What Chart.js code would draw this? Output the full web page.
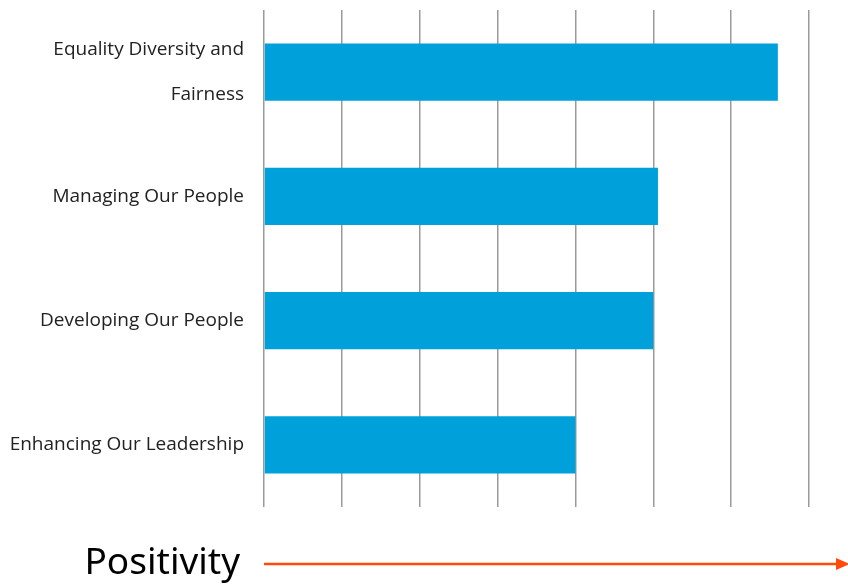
<!DOCTYPE html>
<html>
<head>
<meta charset="utf-8">
<script src="https://cdn.jsdelivr.net/npm/chart.js@4"></script>
<style>
  html, body { margin: 0; padding: 0; background: #fff; }
  #wrap { width: 848px; height: 585px; }
</style>
</head>
<body>
<div id="wrap"><canvas id="myChart" width="848" height="585"></canvas></div>
<script>
// Kategorien und Werte
const categories = [
    ['Equality Diversity and', 'Fairness'],
    'Managing Our People',
    'Developing Our People',
    'Enhancing Our Leadership'
];
const values = [6.6, 5.06, 5.0, 4.0];
const axisMax = 7;
const axisTitle = 'Positivity';

// Titel "Positivity" und Pfeil unter dem Diagramm
const arrowPlugin = {
    id: 'arrowPlugin',
    afterDraw(chart) {
        const ctx = chart.ctx;
        const area = chart.chartArea;
        const y = area.bottom + 57;
        ctx.save();
        ctx.fillStyle = '#000';
        ctx.font = '37px "Noto Sans"';
        ctx.textAlign = 'right';
        ctx.textBaseline = 'alphabetic';
        ctx.fillText(axisTitle, area.left - 24, area.bottom + 67);

        ctx.strokeStyle = '#FF4A0A';
        ctx.fillStyle = '#FF4A0A';
        ctx.lineWidth = 2.5;
        ctx.beginPath();
        ctx.moveTo(area.left, y);
        ctx.lineTo(chart.width - 8, y);
        ctx.stroke();
        ctx.beginPath();
        ctx.moveTo(chart.width + 2, y);
        ctx.lineTo(chart.width - 12, y - 6);
        ctx.lineTo(chart.width - 12, y + 6);
        ctx.closePath();
        ctx.fill();
        ctx.restore();
    }
};

const config = {
    type: 'bar',
    data: {
        labels: categories,
        datasets: [{
            data: values,
            backgroundColor: '#00A1DB',
            borderWidth: 0,
            barPercentage: 0.46,
            categoryPercentage: 1
        }]
    },
    options: {
        indexAxis: 'y',
        responsive: false,
        animation: false,
        layout: { padding: { left: 0, right: 39, top: 10, bottom: 78 } },
        plugins: {
            legend: { display: false },
            tooltip: { enabled: false }
        },
        scales: {
            x: {
                min: 0,
                max: axisMax,
                ticks: { display: false, stepSize: 1 },
                grid: { color: '#9a9a9a', lineWidth: 1.5, drawTicks: false },
                border: { display: false },
                afterFit(scale) { scale.height = 0; }
            },
            y: {
                grid: { display: false, drawTicks: false },
                border: { display: false },
                ticks: {
                    color: '#222',
                    padding: 20,
                    font: { family: '"Open Sans"', size: 19, lineHeight: 2.4 }
                },
                afterFit(scale) {
                    scale.width = 264;
                    scale.paddingTop = 0;
                    scale.paddingBottom = 0;
                }
            }
        }
    },
    plugins: [arrowPlugin]
};

new Chart(document.querySelector('#myChart').getContext('2d'), config);
</script>
</body>
</html>
